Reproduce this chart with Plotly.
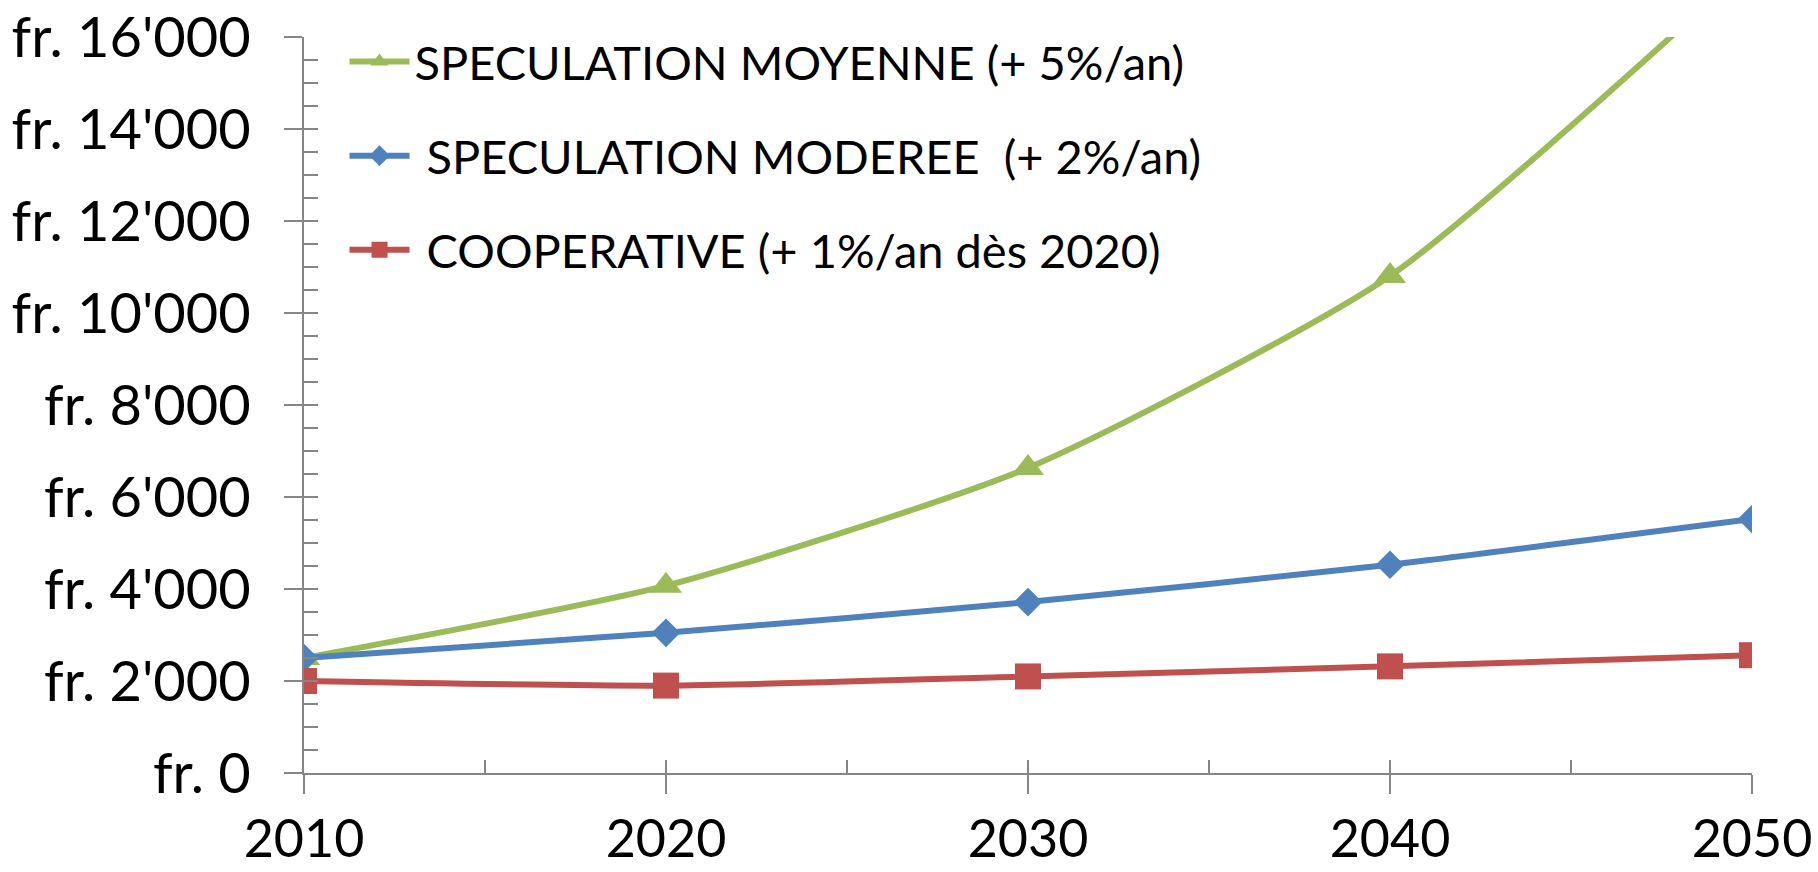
import plotly.graph_objects as go

years = [2010, 2020, 2030, 2040, 2050]
moyenne = [2500, 4072, 6633, 10805, 17600]
moderee = [2500, 3047, 3715, 4528, 5520]
cooperative = [2000, 1900, 2099, 2318, 2561]

names = [
    "SPECULATION MOYENNE (+ 5%/an)",
    "\u00a0SPECULATION MODEREE\u00a0\u00a0(+ 2%/an)",
    "\u00a0COOPERATIVE (+ 1%/an dès 2020)",
]
colors = ["#9BBB59", "#4F81BD", "#C0504D"]
symbols = ["triangle-up", "diamond", "square"]
sizes = [28, 22, 26]
ytick_vals = list(range(0, 16001, 2000))
ytick_text = ["fr. 0" if v == 0 else "fr. {:,}".format(v).replace(",", "'") for v in ytick_vals]

FONT = "Lato, 'Open Sans', sans-serif"
AX = "#868686"

fig = go.Figure()
for i, ys in enumerate([moyenne, moderee, cooperative]):
    fig.add_trace(go.Scatter(
        x=years, y=ys, name=names[i], mode="lines+markers",
        line=dict(color=colors[i], width=6, shape="spline", smoothing=0.6),
        marker=dict(symbol=symbols[i], size=sizes[i], color=colors[i]),
        legendgroup=f"g{i}", hoverinfo="skip",
    ))

# invisible trace to host the overlay axes (cross ticks)
fig.add_trace(go.Scatter(x=years, y=cooperative, xaxis="x2", yaxis="y2",
                         mode="lines", line=dict(width=0), opacity=0,
                         showlegend=False, hoverinfo="skip"))

fig.update_layout(
    width=1818, height=872,
    margin=dict(l=304, r=66, t=37, b=99, autoexpand=False),
    paper_bgcolor="white", plot_bgcolor="white",
    font=dict(family=FONT, color="black"),
    showlegend=True,
    legend=dict(x=0.028, y=1.017, xanchor="left", yanchor="top",
                font=dict(size=47, family=FONT), traceorder="grouped",
                tracegroupgap=30, itemwidth=60, bgcolor="rgba(0,0,0,0)"),
    xaxis=dict(range=[2010, 2050], tickvals=years, ticktext=[str(y) for y in years],
               showgrid=False, zeroline=False, showline=True, linecolor=AX, linewidth=2,
               ticks="outside", ticklen=19, tickwidth=2, tickcolor=AX, automargin=False,
               tickfont=dict(size=52, family=FONT), ticklabelstandoff=1),
    yaxis=dict(range=[0, 16000], tickvals=ytick_vals, ticktext=ytick_text,
               showgrid=False, zeroline=False, showline=True, linecolor=AX, linewidth=2,
               ticks="outside", ticklen=18, tickwidth=2, tickcolor=AX, automargin=False,
               tickfont=dict(size=56, family=FONT), ticklabelstandoff=22),
    xaxis2=dict(range=[2010, 2050], overlaying="x", anchor="y", side="bottom",
                dtick=5, tick0=2010, ticks="inside", ticklen=13, tickwidth=2, tickcolor=AX,
                showticklabels=False, showgrid=False, zeroline=False, showline=False,
                automargin=False),
    yaxis2=dict(range=[0, 16000], overlaying="y", anchor="x", side="left",
                dtick=500, tick0=0, ticks="inside", ticklen=14, tickwidth=2, tickcolor=AX,
                showticklabels=False, showgrid=False, zeroline=False, showline=False,
                automargin=False),
)

fig.write_html(
    "out.html",
    config={"displayModeBar": False},
    post_script="document.body.style.margin='0';document.body.style.overflow='hidden';",
)
